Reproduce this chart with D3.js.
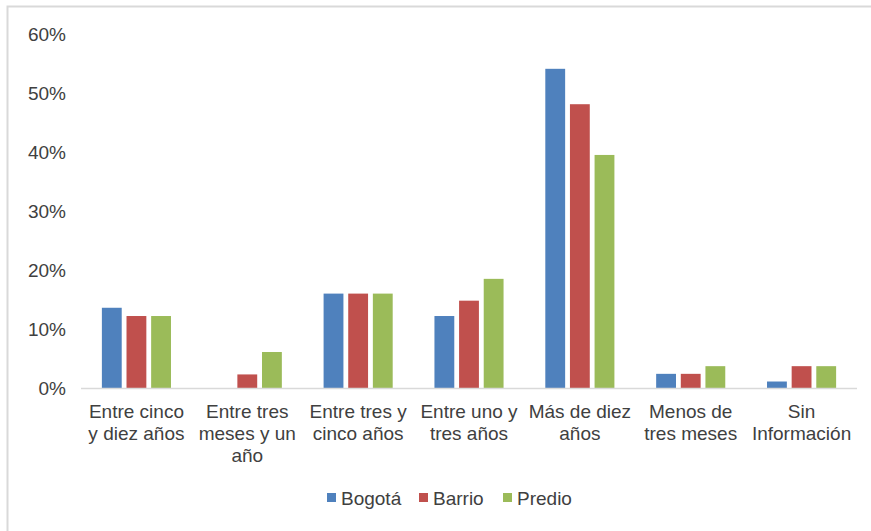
<!DOCTYPE html>
<html>
<head>
<meta charset="utf-8">
<script src="https://cdn.jsdelivr.net/npm/d3@7"></script>
<style>
  body { margin: 0; background: #fff; }
  svg { display: block; font-family: "Liberation Sans", Arial, sans-serif; }
</style>
</head>
<body>
<div id="chart"></div>
<script>
const categories = [
    "Entre cinco y diez años",
    "Entre tres meses y un año",
    "Entre tres y cinco años",
    "Entre uno y tres años",
    "Más de diez años",
    "Menos de tres meses",
    "Sin Información"
];
const labelLines = [
    ["Entre cinco", "y diez años"],
    ["Entre tres", "meses y un", "año"],
    ["Entre tres y", "cinco años"],
    ["Entre uno y", "tres años"],
    ["Más de diez", "años"],
    ["Menos de", "tres meses"],
    ["Sin", "Información"]
];
const seriesNames = ["Bogotá", "Barrio", "Predio"];
const bogota = [13.6, 0, 16.0, 12.2, 54.1, 2.4, 1.1];
const barrio = [12.2, 2.3, 16.0, 14.8, 48.1, 2.4, 3.7];
const predio = [12.2, 6.1, 16.0, 18.5, 39.5, 3.7, 3.7];
const yTicks = [0, 10, 20, 30, 40, 50, 60];
const colors = ["#4f81bd", "#c0504d", "#9bbb59"];

const width = 871;
const height = 531;
const margin = { left: 81, right: 14, top: 34, bottom: 143 };
const textColor = "#404040";

const svg = d3.select("#chart")
    .append("svg")
    .attr("width", width)
    .attr("height", height);

// chart frame (only top and left edges show)
svg.append("rect")
    .attr("x", 7.5)
    .attr("y", 6.5)
    .attr("width", 900)
    .attr("height", 600)
    .attr("fill", "none")
    .attr("stroke", "#d9d9d9")
    .attr("stroke-width", 2);

const x = d3.scaleBand()
    .domain(categories)
    .range([margin.left, width - margin.right]);

const x1 = d3.scaleBand()
    .domain(seriesNames)
    .range([0, x.bandwidth()])
    .paddingInner(0)
    .paddingOuter(0.75);

const y = d3.scaleLinear()
    .domain([0, 60])
    .range([height - margin.bottom, margin.top]);

// y axis labels
svg.append("g")
    .selectAll("text")
    .data(yTicks)
    .enter()
    .append("text")
    .attr("x", 66)
    .attr("y", d => y(d))
    .attr("dy", "0.35em")
    .attr("text-anchor", "end")
    .attr("fill", textColor)
    .style("font-size", "19px")
    .text(d => d + "%");

const data = [bogota, barrio, predio];

const groups = svg.append("g")
    .selectAll("g")
    .data(categories)
    .enter()
    .append("g")
    .attr("transform", d => "translate(" + x(d) + ",0)");

groups.selectAll("rect")
    .data((d, i) => seriesNames.map((s, j) => ({ s: s, v: data[j][i], c: colors[j] })))
    .enter()
    .filter(d => d.v > 0)
    .append("rect")
    .attr("x", d => x1(d.s) + 2.4)
    .attr("width", x1.bandwidth() - 4.8)
    .attr("y", d => y(d.v))
    .attr("height", d => y(0) - y(d.v))
    .attr("fill", d => d.c);

// x axis line
svg.append("line")
    .attr("x1", margin.left)
    .attr("x2", width - margin.right)
    .attr("y1", y(0) + 0.5)
    .attr("y2", y(0) + 0.5)
    .attr("stroke", "#d9d9d9")
    .attr("stroke-width", 1.5);

// category labels
const labels = svg.append("g")
    .selectAll("text")
    .data(categories)
    .enter()
    .append("text")
    .attr("text-anchor", "middle")
    .attr("fill", textColor)
    .style("font-size", "19px")
    .attr("transform", d => "translate(" + (x(d) + x.bandwidth() / 2) + "," + 418 + ")");

labels.selectAll("tspan")
    .data((d, i) => labelLines[i])
    .enter()
    .append("tspan")
    .attr("x", 0)
    .attr("y", (d, i) => i * 22)
    .text(d => d);

// legend
const legendX = [327, 419, 503];
const legend = svg.append("g")
    .selectAll("g")
    .data(seriesNames)
    .enter()
    .append("g")
    .attr("transform", (d, i) => "translate(" + legendX[i] + ",493)");

legend.append("rect")
    .attr("width", 9)
    .attr("height", 9)
    .attr("fill", (d, i) => colors[i]);

legend.append("text")
    .attr("x", 14)
    .attr("y", 12)
    .attr("fill", textColor)
    .style("font-size", "19px")
    .text(d => d);
</script>
</body>
</html>
